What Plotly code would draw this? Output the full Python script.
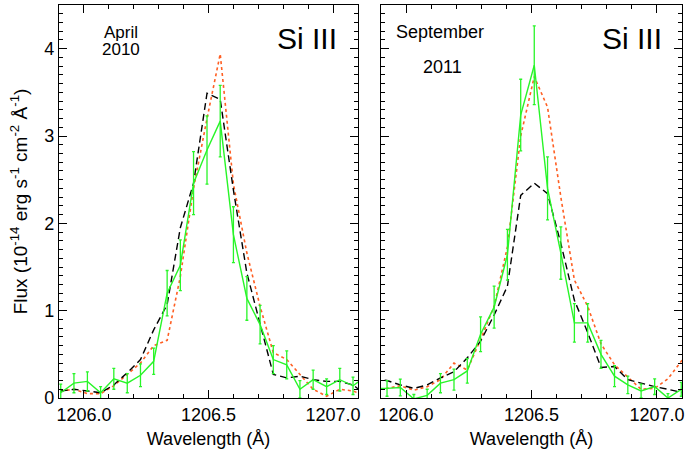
import plotly.graph_objects as go
from plotly.subplots import make_subplots

# ---------------- data ----------------
# Left panel: April 2010
wl_apr = [1205.907, 1205.960, 1206.014, 1206.067, 1206.120, 1206.174, 1206.227, 1206.280,
          1206.334, 1206.387, 1206.440, 1206.494, 1206.547, 1206.600, 1206.654, 1206.707,
          1206.760, 1206.814, 1206.867, 1206.920, 1206.974, 1207.027, 1207.080, 1207.134]
obs_apr = [0.06, 0.17, 0.19, 0.06, 0.22, 0.17, 0.26, 0.42, 1.20, 1.52, 2.46, 2.84,
           3.17, 1.87, 1.14, 0.84, 0.44, 0.38, 0.10, 0.21, 0.13, 0.21, 0.14, 0.25]
err_apr = [0.10, 0.11, 0.11, 0.07, 0.12, 0.11, 0.13, 0.15, 0.26, 0.29, 0.36, 0.39,
           0.41, 0.32, 0.25, 0.22, 0.16, 0.16, 0.10, 0.11, 0.09, 0.13, 0.10, 0.10]
dash_apr = [0.08, 0.10, 0.08, 0.06, 0.15, 0.29, 0.44, 0.78, 1.07, 1.95, 2.46, 3.49,
            3.42, 2.38, 1.43, 0.86, 0.27, 0.23, 0.25, 0.21, 0.19, 0.19, 0.15, 0.03]
dot_apr = [0.08, 0.10, 0.05, 0.05, 0.14, 0.27, 0.40, 0.60, 0.66, 1.39, 2.40, 3.20,
           3.94, 2.45, 1.66, 1.05, 0.52, 0.44, 0.27, 0.10, 0.02, 0.10, 0.08, 0.02]

# Right panel: September 2011
wl_sep = [1205.871, 1205.924, 1205.977, 1206.031, 1206.084, 1206.137, 1206.191, 1206.244,
          1206.297, 1206.351, 1206.404, 1206.457, 1206.511, 1206.564, 1206.617, 1206.671,
          1206.724, 1206.777, 1206.831, 1206.884, 1206.937, 1206.991, 1207.044, 1207.097,
          1207.151]
obs_sep = [0.11, 0.11, 0.12, -0.01, 0.03, 0.17, 0.21, 0.31, 0.73, 1.04, 1.64, 3.24,
           3.81, 2.40, 1.66, 0.86, 0.86, 0.50, 0.25, 0.15, 0.08, 0.13, 0.00, 0.10, 0.20]
err_sep = [0.09, 0.09, 0.095, 0.05, 0.07, 0.11, 0.12, 0.14, 0.20, 0.24, 0.29, 0.41,
           0.45, 0.36, 0.30, 0.22, 0.22, 0.16, 0.12, 0.10, 0.08, 0.09, 0.05, 0.08, 0.08]
dash_sep = [0.22, 0.20, 0.15, 0.11, 0.15, 0.23, 0.30, 0.46, 0.65, 0.95, 1.28, 2.32,
            2.46, 2.34, 1.77, 1.12, 0.75, 0.35, 0.36, 0.21, 0.17, 0.13, 0.10, 0.06, 0.03]
dot_sep = [0.10, 0.11, 0.14, 0.09, 0.13, 0.21, 0.40, 0.32, 0.67, 1.05, 1.73, 3.00,
           3.68, 3.33, 2.30, 1.35, 1.05, 0.62, 0.38, 0.24, 0.10, 0.11, 0.22, 0.42, 0.60]

x_ticks = [1206.0, 1206.5, 1207.0]
x_ticklabels = ["1206.0", "1206.5", "1207.0"]
y_ticks = [0, 1, 2, 3, 4]

# ---------------- styling ----------------
W, H = 688, 452
GREEN = "rgb(40,245,40)"
ORANGE = "rgb(255,95,35)"
FONT = "Liberation Sans, Arial, sans-serif"

def px_x(p):
    return p / W

def px_y(p):
    return 1 - p / H

fig = make_subplots(rows=1, cols=2, horizontal_spacing=0.05)

def add_panel(col, wl, obs, err, dash, dot):
    fig.add_trace(go.Scatter(x=wl, y=dot, mode="lines",
                             line=dict(color=ORANGE, width=1.6, dash="dot"),
                             showlegend=False), row=1, col=col)
    fig.add_trace(go.Scatter(x=wl, y=dash, mode="lines",
                             line=dict(color="black", width=1.4, dash="7px,4px"),
                             showlegend=False), row=1, col=col)
    fig.add_trace(go.Scatter(x=wl, y=obs, mode="lines",
                             line=dict(color=GREEN, width=1.4),
                             error_y=dict(type="data", array=err, color=GREEN,
                                          thickness=1.3, width=1.5),
                             showlegend=False), row=1, col=col)

add_panel(1, wl_apr, obs_apr, err_apr, dash_apr, dot_apr)
add_panel(2, wl_sep, obs_sep, err_sep, dash_sep, dot_sep)

xdom1 = [px_x(59), px_x(358)]
xdom2 = [px_x(381), px_x(682)]
ydom = [px_y(398), px_y(5)]

axis_common = dict(showline=True, linecolor="black", linewidth=1.2, mirror="ticks",
                   ticks="inside", ticklen=8, tickwidth=1, tickcolor="black",
                   showgrid=False, zeroline=False, automargin=False,
                   tickfont=dict(family=FONT, size=18, color="black"))

for i, dom in enumerate([xdom1, xdom2], start=1):
    fig.update_xaxes(row=1, col=i, domain=dom, range=[1205.9, 1207.1],
                     tickvals=x_ticks, ticktext=x_ticklabels,
                     minor=dict(dtick=0.1, tick0=1206.0, ticks="inside", ticklen=4,
                                tickcolor="black", showgrid=False),
                     title=dict(text="Wavelength (Å)", font=dict(family=FONT, size=18, color="black"),
                                standoff=8),
                     **axis_common)
    fig.update_yaxes(row=1, col=i, domain=ydom, range=[0, 4.5],
                     tickvals=y_ticks,
                     minor=dict(dtick=0.1, tick0=0, ticks="inside", ticklen=4,
                                tickcolor="black", showgrid=False),
                     showticklabels=(i == 1),
                     **axis_common)

fig.update_yaxes(row=1, col=1,
                 title=dict(text="Flux (10<sup>-14</sup> erg s<sup>-1</sup> cm<sup>-2</sup> Å<sup>-1</sup>)",
                            font=dict(family=FONT, size=19, color="black"), standoff=11))

annos = [
    ("April", 121, 32, 17),
    ("2010", 121, 49, 17),
    ("Si III", 307, 38, 30),
    ("September", 440, 32, 18),
    ("2011", 442, 67, 18),
    ("Si III", 632, 38, 30),
]
for txt, xp, yp, sz in annos:
    fig.add_annotation(text=txt, x=px_x(xp), y=px_y(yp), xref="paper", yref="paper",
                       xanchor="center", yanchor="middle", showarrow=False,
                       font=dict(family=FONT, size=sz, color="black"))

fig.update_layout(width=W, height=H, margin=dict(l=0, r=0, t=0, b=0),
                  paper_bgcolor="white", plot_bgcolor="white",
                  font=dict(family=FONT, color="black"))

fig.write_html("out.html", config={"displayModeBar": False},
               post_script="document.body.style.margin='0';document.body.style.overflow='hidden';")
